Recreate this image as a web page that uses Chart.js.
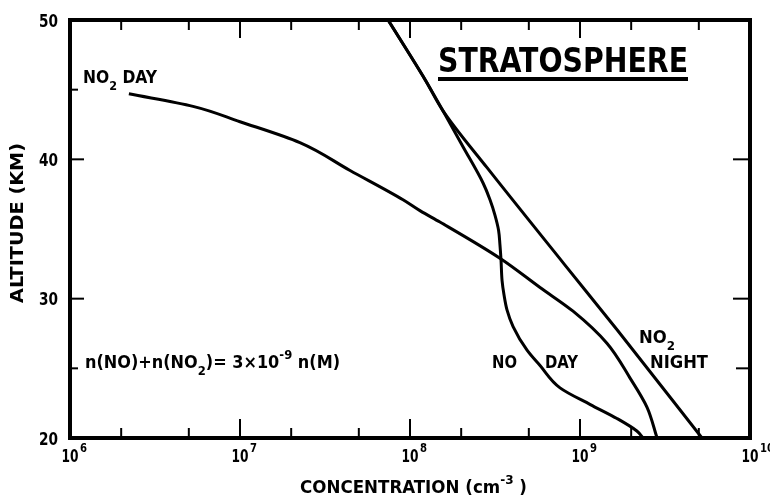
<!DOCTYPE html>
<html><head><meta charset="utf-8">
<script src="https://cdn.jsdelivr.net/npm/chart.js@4.4.1/dist/chart.umd.min.js"></script>
<style>html,body{margin:0;padding:0;background:#fff}#wrap{width:770px;height:495px}</style>
</head><body><div id="wrap"><canvas id="c" width="770" height="495"></canvas></div>
<script>
// ---- data (concentration cm^-3, altitude km) ----
const noDayConc   = [7.43e7,1.23e8,1.56e8,2.05e8,2.69e8,2.955e8,3.16e8,3.32e8,3.38e8,3.43e8,3.48e8,3.57e8,3.72e8,4.04e8,4.88e8,5.82e8,7.63e8,1.15e9,1.65e9,2.16e9,2.35e9];
const noDayAlt    = [50,45.7,43.5,40.9,38.3,37.1,36.0,34.9,33.9,32.8,31.3,30.3,29.2,28.0,26.3,25.2,23.6,22.4,21.4,20.5,20];
const no2NightConc= [7.43e7,1.23e8,1.56e8,2.84e8,8.05e8,1.67e9,5.22e9];
const no2NightAlt = [50,45.7,43.5,39.4,32.5,27.7,20];
const no2DayConc  = [2.22e6,5.29e6,1.0e7,2.25e7,4.44e7,9.10e7,1.15e8,1.50e8,3.38e8,5.82e8,9.10e8,1.44e9,1.97e9,2.48e9,2.84e9];
const no2DayAlt   = [44.7,43.8,42.7,41.2,39.2,37.1,36.3,35.5,32.9,30.8,29.1,26.8,24.3,22.2,20];

const xDecades     = [1e6,1e7,1e8,1e9,1e10];
const xDecadeExp   = ['6','7','8','9','10'];
const xInnerMajor  = [1e7,1e8,1e9];
const xMinorTop    = [2e6,5e6,2e7,5e7,2e8,5e8,2e9,5e9];
const xMinorBottom = [2e6,5e6,2e7,5e7,2e8,5e8,2e9,5e9];
const yLabels      = [20,30,40,50];
const yLeftMajor   = [40,30];
const yLeftMinor   = [45,25];
const yRightMajor  = [40,30];
const yRightMinor  = [25];

const FAM = "'DejaVu Sans Condensed','Liberation Sans Narrow','DejaVu Sans',sans-serif";
const pts = (xs, ys) => xs.map((x,i)=>({x, y: ys[i]}));

function drawRich(ctx, parts, x, y, size, targetW, align){
  const small = Math.round(size*0.72);
  let w = 0;
  const ms = parts.map(p=>{ctx.font=`bold ${p[1]==='n'?size:small}px ${FAM}`;const m=ctx.measureText(p[0]).width;w+=m;return m;});
  const sx = targetW ? targetW/w : 1;
  let cx = align==='center' ? x - w*sx/2 : align==='right' ? x - w*sx : x;
  ctx.save(); ctx.translate(cx,y); ctx.scale(sx,1);
  ctx.textAlign='left'; ctx.textBaseline='alphabetic'; ctx.fillStyle='#000';
  let px=0;
  parts.forEach((p,i)=>{
    ctx.font=`bold ${p[1]==='n'?size:small}px ${FAM}`;
    const dy = p[1]==='sub' ? size*0.38 : p[1]==='sup' ? -size*0.5 : 0;
    ctx.fillText(p[0], px, dy); px += ms[i];
  });
  ctx.restore();
}

const decor = {
  id:'decor',
  afterDraw(chart){
    const ctx = chart.ctx, a = chart.chartArea, xs = chart.scales.x, ys = chart.scales.y;
    ctx.save();
    ctx.strokeStyle='#000'; ctx.lineCap='butt';
    ctx.lineWidth=4;
    ctx.strokeRect(a.left, a.top, a.right-a.left, a.bottom-a.top);
    ctx.lineWidth=2;
    const line=(x1,y1,x2,y2)=>{ctx.beginPath();ctx.moveTo(x1,y1);ctx.lineTo(x2,y2);ctx.stroke();};
    xInnerMajor.forEach(v=>{const p=xs.getPixelForValue(v); line(p,a.top,p,a.top+18); line(p,a.bottom,p,a.bottom-19);});
    xMinorTop.forEach(v=>{const p=xs.getPixelForValue(v); line(p,a.top,p,a.top+10);});
    xMinorBottom.forEach(v=>{const p=xs.getPixelForValue(v); line(p,a.bottom,p,a.bottom-10);});
    yLeftMajor.forEach(v=>{const p=ys.getPixelForValue(v); line(a.left,p,a.left+14,p);});
    yLeftMinor.forEach(v=>{const p=ys.getPixelForValue(v); line(a.left,p,a.left+8,p);});
    yRightMajor.forEach(v=>{const p=ys.getPixelForValue(v); line(a.right,p,a.right-17,p);});
    yRightMinor.forEach(v=>{const p=ys.getPixelForValue(v); line(a.right,p,a.right-14,p);});
    // y tick labels
    yLabels.forEach(v=>{const p=ys.getPixelForValue(v); drawRich(ctx,[[String(v),'n']],58,p+6.5,18,19,'right');});
    // x tick labels
    xDecades.forEach((v,i)=>{const p=xs.getPixelForValue(v);
      drawRich(ctx,[['10','n']],p,462,18,17,'center');
      drawRich(ctx,[[xDecadeExp[i],'n']],p+10,452,13,xDecadeExp[i].length*7,'left');});
    // axis titles
    drawRich(ctx,[['CONCENTRATION (cm','n'],['-3','sup'],[' )','n']],300,493,18,227,'left');
    ctx.save(); ctx.translate(23,303); ctx.rotate(-Math.PI/2);
    drawRich(ctx,[['ALTITUDE (KM)','n']],0,0,18,160,'left');
    ctx.restore();
    // title
    drawRich(ctx,[['STRATOSPHERE','n']],438,72,34,250,'left');
    ctx.fillStyle='#000'; ctx.fillRect(438,77,250,4);
    // curve labels
    drawRich(ctx,[['NO','n'],['2','sub'],[' DAY','n']],83,83,18,74,'left');
    drawRich(ctx,[['n(NO)+n(NO','n'],['2','sub'],[')= 3×10','n'],['-9','sup'],[' n(M)','n']],85,368,18,255,'left');
    drawRich(ctx,[['NO','n']],492,368,18,25,'left');
    drawRich(ctx,[['DAY','n']],545,368,18,33,'left');
    drawRich(ctx,[['NO','n'],['2','sub']],639,343,18,36,'left');
    drawRich(ctx,[['NIGHT','n']],650,368,18,58,'left');
    ctx.restore();
  }
};

const ds = (data)=>({data, showLine:true, borderColor:'#000', borderWidth:3, pointRadius:0, cubicInterpolationMode:'monotone', fill:false});
new Chart(document.getElementById('c'), {
  type:'scatter',
  data:{datasets:[ds(pts(noDayConc,noDayAlt)), ds(pts(no2NightConc,no2NightAlt)), ds(pts(no2DayConc,no2DayAlt))]},
  options:{
    indexAxis:'y',
    responsive:false, animation:false, devicePixelRatio:1,
    layout:{padding:{left:70,right:20,top:20,bottom:57}},
    scales:{
      x:{type:'logarithmic',min:1e6,max:1e10,display:false},
      y:{type:'linear',min:20,max:50,display:false}
    },
    plugins:{legend:{display:false},tooltip:{enabled:false}}
  },
  plugins:[decor]
});
</script></body></html>
